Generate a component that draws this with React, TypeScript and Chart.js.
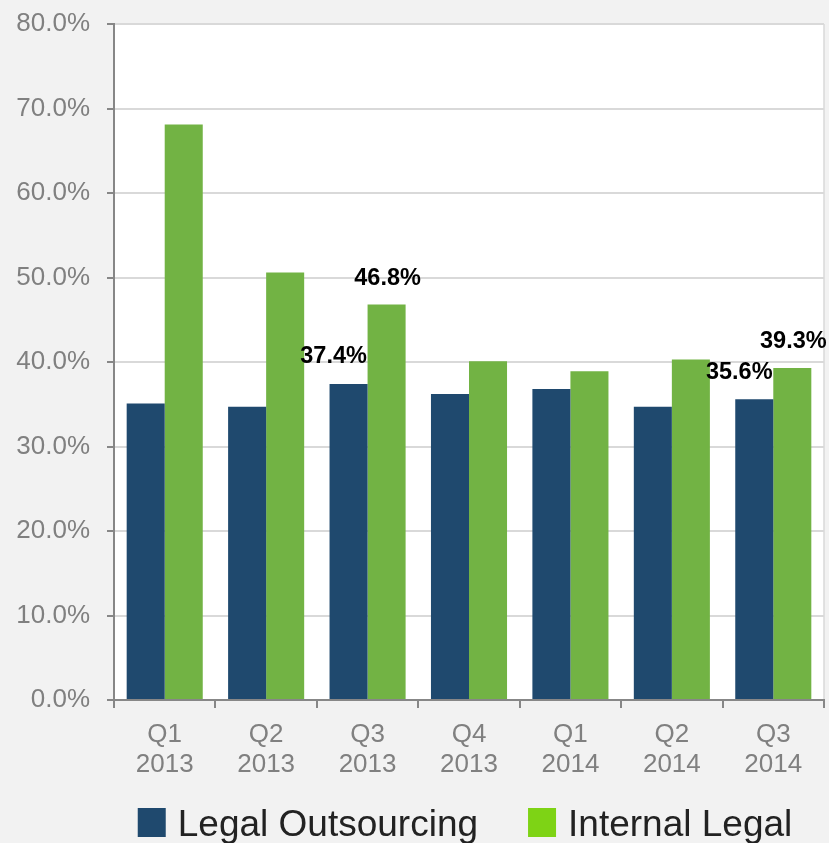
import React, { useEffect, useRef } from "react";
import { Chart, registerables } from "chart.js";

Chart.register(...registerables);

const categories: string[][] = [
  ["Q1", "2013"],
  ["Q2", "2013"],
  ["Q3", "2013"],
  ["Q4", "2013"],
  ["Q1", "2014"],
  ["Q2", "2014"],
  ["Q3", "2014"],
];
const legalOutsourcing = [35.1, 34.7, 37.4, 36.2, 36.8, 34.7, 35.6];
const internalLegal = [68.1, 50.6, 46.8, 40.1, 38.9, 40.3, 39.3];
const labelledIndices = [2, 6];
const seriesNames = ["Legal Outsourcing", "Internal Legal"];
const yMin = 0;
const yMax = 80;
const yStep = 10;

const BLUE = "#1f496e";
const GREEN = "#72b344";
const LEGEND_COLORS = ["#1f496e", "#7ed315"];
const FONT = "'Liberation Sans', Arial, sans-serif";

const bgPlugin = {
  id: "bgPlugin",
  beforeDraw(chart: any) {
    const { ctx, chartArea } = chart;
    const { left, top, right, bottom } = chartArea;
    ctx.save();
    ctx.fillStyle = "#f2f2f2";
    ctx.fillRect(0, 0, chart.width, chart.height);
    ctx.fillStyle = "#ffffff";
    ctx.fillRect(left, top, right - left, bottom - top);
    ctx.strokeStyle = "#d9d9d9";
    ctx.lineWidth = 1.5;
    ctx.beginPath();
    ctx.moveTo(right, top);
    ctx.lineTo(right, bottom);
    ctx.stroke();
    ctx.restore();
  },
};

const labelPlugin = {
  id: "labelPlugin",
  afterDatasetsDraw(chart: any) {
    const { ctx } = chart;
    ctx.save();
    ctx.font = `bold 23.5px ${FONT}`;
    ctx.fillStyle = "#000000";
    ctx.textAlign = "center";
    ctx.textBaseline = "middle";
    const offsets = [
      { dx: -15, dy: -27 },
      { dx: 1, dy: -26 },
    ];
    chart.data.datasets.forEach((ds: any, di: number) => {
      const meta = chart.getDatasetMeta(di);
      labelledIndices.forEach((idx) => {
        const el = meta.data[idx];
        if (!el) return;
        const v = ds.data[idx];
        ctx.fillText(`${v.toFixed(1)}%`, el.x + offsets[di].dx, el.y + offsets[di].dy);
      });
    });
    ctx.restore();
  },
};

const legendPlugin = {
  id: "customLegend",
  afterDraw(chart: any) {
    const { ctx, chartArea } = chart;
    ctx.save();
    ctx.font = `37px ${FONT}`;
    const boxW = 28;
    const boxH = 29;
    const gapBoxText = 12;
    const gapItems = 50;
    const widths = seriesNames.map((n) => ctx.measureText(n).width);
    const total =
      widths.reduce((a, b) => a + b, 0) + seriesNames.length * (boxW + gapBoxText) + gapItems * (seriesNames.length - 1);
    const center = (chartArea.left + chartArea.right) / 2 - 4;
    let x = center - total / 2;
    const boxTop = chartArea.bottom + 108;
    const baseline = chartArea.bottom + 136;
    ctx.textBaseline = "alphabetic";
    ctx.textAlign = "left";
    seriesNames.forEach((name, i) => {
      ctx.fillStyle = LEGEND_COLORS[i];
      ctx.fillRect(x, boxTop, boxW, boxH);
      x += boxW + gapBoxText;
      ctx.fillStyle = "#222222";
      ctx.fillText(name, x, baseline);
      x += widths[i] + gapItems;
    });
    ctx.restore();
  },
};

export default function App() {
  const canvasRef = useRef<HTMLCanvasElement | null>(null);

  useEffect(() => {
    if (!canvasRef.current) return;
    const chart = new Chart(canvasRef.current, {
      type: "bar",
      data: {
        labels: categories,
        datasets: [
          {
            label: seriesNames[0],
            data: legalOutsourcing,
            backgroundColor: BLUE,
            borderWidth: 0,
          },
          {
            label: seriesNames[1],
            data: internalLegal,
            backgroundColor: GREEN,
            borderWidth: 0,
          },
        ],
      },
      options: {
        animation: false,
        responsive: true,
        maintainAspectRatio: false,
        layout: { padding: { top: 24, right: 5, left: 0, bottom: 48 } },
        datasets: {
          bar: { categoryPercentage: 0.75, barPercentage: 1.0 },
        },
        scales: {
          x: {
            grid: {
              drawOnChartArea: false,
              drawTicks: true,
              tickLength: 8,
              color: "#878787",
              lineWidth: 2,
            },
            border: { color: "#878787", width: 2 },
            ticks: {
              color: "#808080",
              font: { family: FONT, size: 26, lineHeight: 1.16 },
              padding: 12,
              maxRotation: 0,
              autoSkip: false,
            },
            afterFit(scale: any) {
              scale.height = 95;
            },
          },
          y: {
            min: yMin,
            max: yMax,
            ticks: {
              stepSize: yStep,
              color: "#808080",
              font: { family: FONT, size: 26 },
              padding: 17,
              callback: (v: any) => `${Number(v).toFixed(1)}%`,
            },
            grid: {
              color: "#d9d9d9",
              lineWidth: 2,
              tickLength: 7,
              tickColor: "#878787",
              tickWidth: 2,
            },
            border: { color: "#878787", width: 2 },
            afterFit(scale: any) {
              scale.width = 114;
              scale.paddingTop = 0;
              scale.paddingBottom = 0;
            },
          },
        },
        plugins: {
          legend: { display: false },
          tooltip: { enabled: false },
        },
      },
      plugins: [bgPlugin, labelPlugin, legendPlugin],
    } as any);
    return () => chart.destroy();
  }, []);

  return (
    <div
      style={{
        position: "fixed",
        left: 0,
        top: 0,
        width: 829,
        height: 843,
        overflow: "hidden",
        background: "#f2f2f2",
      }}
    >
      <div style={{ position: "relative", width: 829, height: 843 }}>
        <canvas ref={canvasRef} />
      </div>
    </div>
  );
}
